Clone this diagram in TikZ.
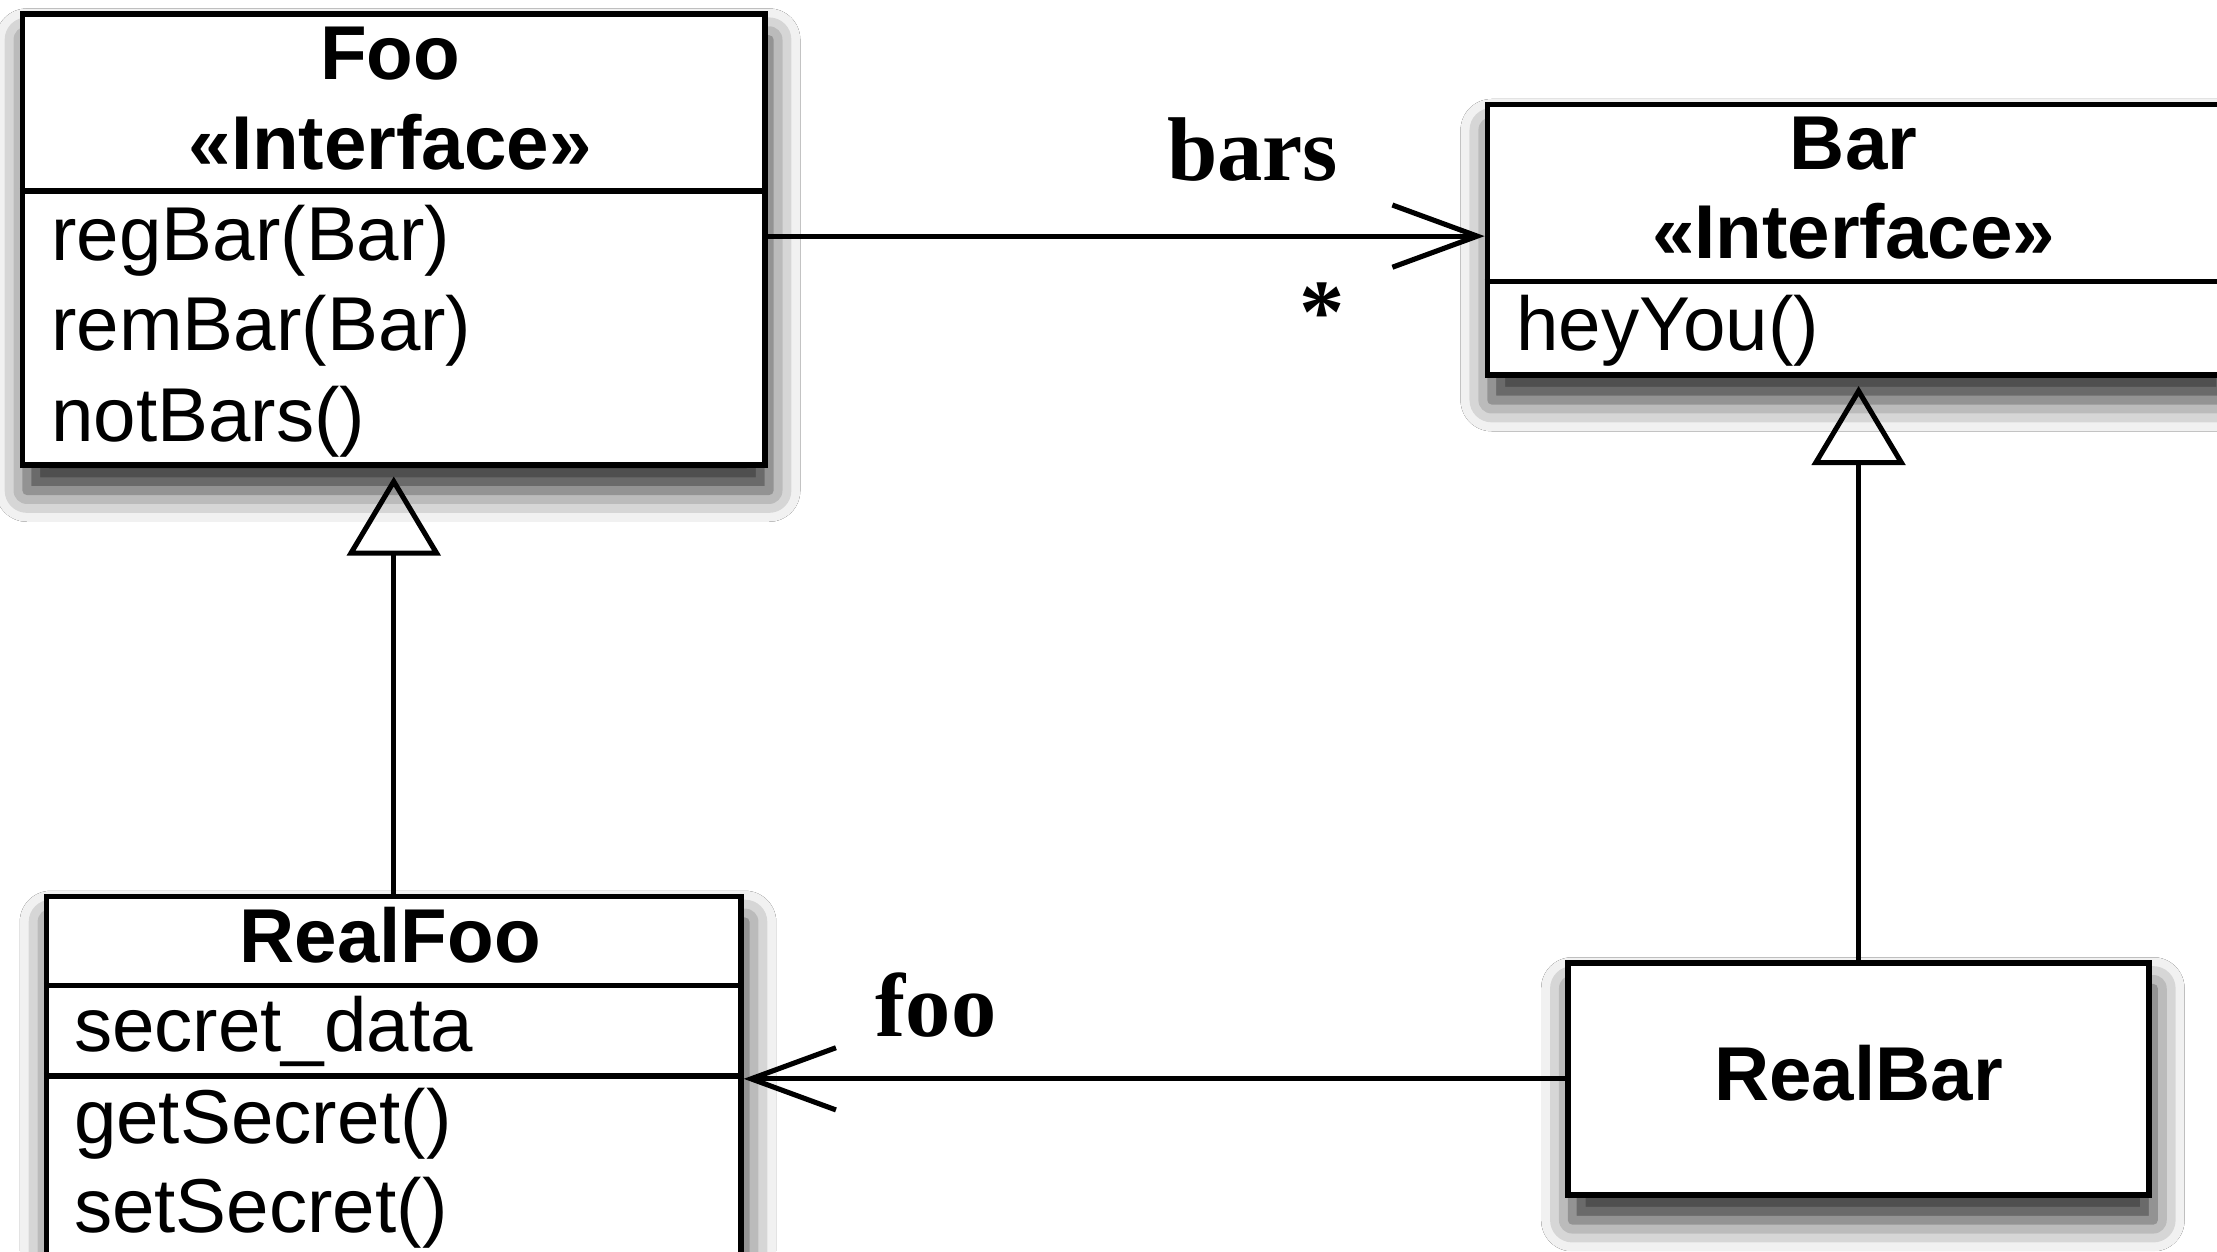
\documentclass[tikz,border=0pt]{standalone}
\usepackage{fontspec}
\setmainfont{Liberation Sans}
\newfontfamily\rolefont{Liberation Serif}
\usepackage{tikz}
\usetikzlibrary{arrows.meta,shadows.blur}

\tikzset{
  classbox/.style={draw, line width=2pt, fill=white, anchor=north west, inner sep=0pt,
    blur shadow={shadow xshift=1.5pt, shadow yshift=-9pt, shadow blur radius=11pt, shadow opacity=85}},
  classname/.style={font=\fontsize{27}{32}\selectfont\bfseries, inner sep=0pt, text height=0.75em, text depth=0.25em},
  member/.style={font=\fontsize{27}{32}\selectfont, anchor=west, inner sep=0pt, text height=0.75em, text depth=0.25em},
  rolename/.style={font=\fontsize{32}{36}\selectfont\rolefont\bfseries, inner sep=0pt},
  divider/.style={line width=2pt},
  assoc/.style={line width=1.8pt, -{Straight Barb[length=30pt,width=22pt]}},
  realizes/.style={line width=1.8pt, -{Triangle[open,length=28pt,width=33pt]}, shorten >=3pt},
}

\begin{document}
\begin{tikzpicture}[x=0.5pt, y=-0.5pt]
  \useasboundingbox (0,0) rectangle (1568,885);
  \fill[white] (0,0) rectangle (1568,885);
  \clip (0,0) rectangle (1568,885);

  % interfaces
  \node[classbox, minimum width=262.5pt, minimum height=159.5pt] (foo) at (14,8) {};
  \node[classname] (fooname) at (276,51) {Foo};
  \node[classname] (foostereo) at (276,115) {«Interface»};
  \draw[divider] (foo.west |- 0,135) -- (foo.east |- 0,135);
  \node[member] (fooreg) at (36,179) {regBar(Bar)};
  \node[member] (foorem) at (36,243) {remBar(Bar)};
  \node[member] (foonot) at (36,307) {notBars()};

  \node[classbox, minimum width=261pt, minimum height=95.5pt] (bar) at (1050,72) {};
  \node[classname] (barname) at (1311,115) {Bar};
  \node[classname] (barstereo) at (1311,178) {«Interface»};
  \draw[divider] (bar.west |- 0,199) -- (bar.east |- 0,199);
  \node[member] (barhey) at (1072,243) {heyYou()};

  % implementations
  \node[classbox, minimum width=245.5pt, minimum height=130pt] (realfoo) at (31,632) {};
  \node[classname] (realfooname) at (276,676) {RealFoo};
  \draw[divider] (realfoo.west |- 0,697) -- (realfoo.east |- 0,697);
  \node[member] (realfoodata) at (52,739) {secret\_data};
  \draw[divider] (realfoo.west |- 0,761) -- (realfoo.east |- 0,761);
  \node[member] (realfooget) at (52,804) {getSecret()};
  \node[member] (realfooset) at (52,867) {setSecret()};

  \node[classbox, minimum width=205.5pt, minimum height=82pt] (realbar) at (1107,679) {};
  \node[classname] (realbarname) at ([yshift=-5pt]realbar.center) {RealBar};

  % associations
  \draw[assoc] (foo.east |- 0,167) coordinate (fooout) -- (bar.west |- fooout);
  \node[rolename] (barsrole) at (886,106) {bars};
  \node[rolename] (barsmult) at (935,221) {*};
  \draw[assoc] (realbar.west) -- (realfoo.east |- realbar.west);
  \node[rolename] (foorole) at (662,711) {foo};

  % realizations
  \draw[realizes] (realfoo.north) -- (foo.south);
  \draw[realizes] (realbar.north) -- (bar.south -| realbar.north);
\end{tikzpicture}
\end{document}
